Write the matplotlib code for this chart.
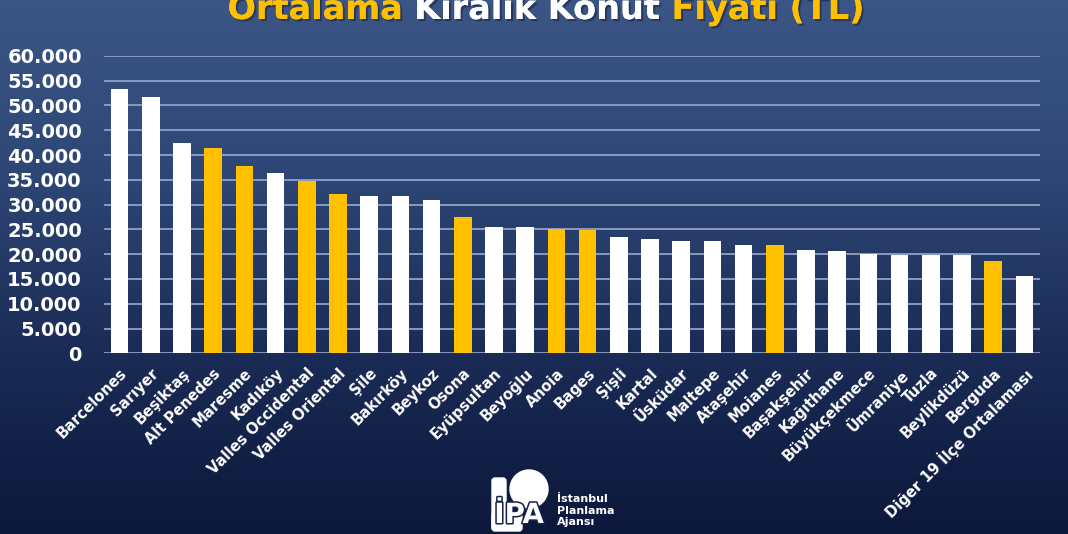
import numpy as np
import matplotlib
matplotlib.use("Agg")
import matplotlib.pyplot as plt
from matplotlib.colors import LinearSegmentedColormap
from matplotlib.patches import Circle, FancyBboxPatch
import matplotlib.patheffects as pe

categories = ["Barcelones", "Sarıyer", "Beşiktaş", "Alt Penedes", "Maresme", "Kadıköy",
              "Valles Occidental", "Valles Oriental", "Şile", "Bakırköy", "Beykoz", "Osona",
              "Eyüpsultan", "Beyoğlu", "Anoia", "Bages", "Şişli", "Kartal", "Üsküdar",
              "Maltepe", "Ataşehir", "Moianes", "Başakşehir", "Kağıthane", "Büyükçekmece",
              "Ümraniye", "Tuzla", "Beylikdüzü", "Berguda", "Diğer 19 İlçe Ortalaması"]
values = [53300, 51800, 42500, 41500, 37800, 36450, 34800, 32200, 31750, 31750, 31000, 27450,
          25550, 25400, 25000, 24900, 23550, 23000, 22650, 22650, 21800, 21800, 20850, 20650,
          19950, 19900, 19900, 19750, 18700, 15550]
is_barcelona = [False, False, False, True, True, False, True, True, False, False, False, True,
                False, False, True, True, False, False, False, False, False, True, False, False,
                False, False, False, False, True, False]
yticks = list(range(0, 60001, 5000))
ytick_labels = [f"{v:,}".replace(",", ".") for v in yticks]
title_parts = [("Ortalama ", "#FFC000"), ("Kiralık Konut ", "white"), ("Fiyatı (TL)", "#FFC000")]
logo_lines = ["İstanbul", "Planlama", "Ajansı"]

W, H = 1068, 534
fig = plt.figure(figsize=(W / 100, H / 100), dpi=100)
FONT = "DejaVu Sans"
YELLOW = "#FFC000"
NAVY = "#14214a"

# background gradient
bg = fig.add_axes([0, 0, 1, 1], zorder=-10)
cmap = LinearSegmentedColormap.from_list("bg", ["#3b5686", "#2d4675", "#1a2b55", "#0c183b"])
grad = np.linspace(0, 1, 256).reshape(-1, 1)
bg.imshow(grad, aspect="auto", cmap=cmap, extent=[0, 1, 0, 1], origin="upper")
bg.axis("off")

ax = fig.add_axes([104 / W, 1 - 353.3 / H, (1040 - 104) / W, (353.3 - 55.9) / H])
ax.set_facecolor("none")
x = np.arange(len(categories))
colors = [YELLOW if b else "white" for b in is_barcelona]
ax.bar(x, values, width=0.56, color=colors, zorder=3)
ax.set_xlim(-0.5, len(categories) - 0.5)
ax.set_ylim(0, 60000)
ax.set_yticks(yticks)
ax.set_yticklabels(ytick_labels, fontsize=14, fontweight="bold", color="white", family=FONT)
ax.yaxis.grid(True, color="#8fa2c6", linewidth=1.3, zorder=0)
ax.set_axisbelow(True)
for s in ax.spines.values():
    s.set_visible(False)
ax.tick_params(axis="y", length=0, pad=16)
ax.tick_params(axis="x", length=0, pad=9)
ax.set_xticks(x)
ax.set_xticklabels(categories, rotation=45, ha="right", rotation_mode="anchor",
                   fontsize=10.6, fontweight="bold", color="white", family=FONT)

# title with multiple colours (cut off at the top edge as in the original)
fig.canvas.draw()
renderer = fig.canvas.get_renderer()
texts = []
for s, c in title_parts:
    t = fig.text(0, 1 - 19 / H, s, color=c, fontsize=21, fontweight="bold", family=FONT,
                 va="baseline", ha="left",
                 path_effects=[pe.withSimplePatchShadow(offset=(1.5, -1.5), shadow_rgbFace="#1a2440", alpha=0.6), pe.Normal()])
    texts.append(t)
widths = [t.get_window_extent(renderer).width for t in texts]
total = sum(widths)
target = 637.0
scale = target / total
for t in texts:
    t.set_fontsize(21 * scale)
widths = [w * scale for w in widths]
start = 546 - target / 2
for t, w in zip(texts, widths):
    t.set_x(start / W)
    start += w

# logo
lax = fig.add_axes([470 / W, 0, 90 / W, 70 / H], zorder=5)
lax.set_xlim(470, 560)
lax.set_ylim(534, 464)
lax.set_aspect("equal")
lax.axis("off")
lax.add_patch(Circle((529, 489), 19, color="white"))
lax.add_patch(FancyBboxPatch((492, 478), 14, 52, boxstyle="round,pad=0,rounding_size=3",
                             color="white"))
lax.add_patch(FancyBboxPatch((492, 512), 30, 19, boxstyle="round,pad=0,rounding_size=3",
                             color="white"))
lax.text(519, 523, "İPA", color="white", fontsize=20, fontweight="bold", family=FONT,
         ha="center", va="baseline",
         path_effects=[pe.withStroke(linewidth=2.2, foreground=NAVY)])
for i, line in enumerate(logo_lines):
    fig.text(557 / W, 1 - (502 + i * 11.5) / H, line, color="white", fontsize=8,
             fontweight="bold", family=FONT, ha="left", va="baseline")

fig.savefig("out.png", dpi=100)
